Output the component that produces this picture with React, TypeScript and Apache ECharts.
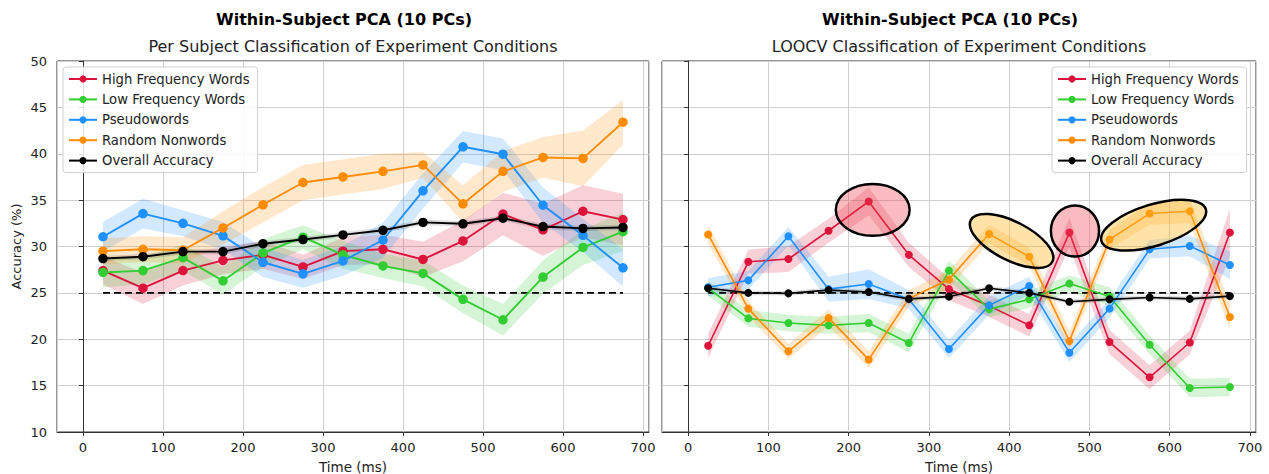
import React, { useEffect, useRef } from "react";
import * as echarts from "echarts";

// Window centres of the sliding classification (ms)
const TIME_MS = [25, 75, 125, 175, 225, 275, 325, 375, 425, 475, 525, 575, 625, 675];

const CONDITIONS = [
  "High Frequency Words",
  "Low Frequency Words",
  "Pseudowords",
  "Random Nonwords",
  "Overall Accuracy",
];
const CONDITION_COLORS = ["#DC143C", "#32CD32", "#1E90FF", "#FF8C00", "#000000"];
const CHANCE_LEVEL = 25;

// Per subject classification: mean accuracy (%) and CI half-width
const perSubjectHF = [27.4, 25.5, 27.4, 28.5, 29.1, 27.8, 29.5, 29.7, 28.6, 30.6, 33.5, 31.8, 33.8, 32.9];
const perSubjectHFErr = [1.5, 1.7, 1.6, 1.5, 1.5, 1.3, 1.5, 1.6, 1.9, 2.2, 2.3, 2.8, 2.8, 2.8];
const perSubjectLF = [27.2, 27.4, 28.8, 26.3, 29.3, 31.0, 29.1, 27.9, 27.1, 24.3, 22.1, 26.7, 29.9, 31.6];
const perSubjectLFErr = [1.6, 1.5, 1.4, 1.5, 1.5, 1.3, 1.5, 1.3, 1.4, 1.5, 1.7, 1.8, 1.9, 2.1];
const perSubjectPW = [31.05, 33.55, 32.5, 31.15, 28.3, 27.05, 28.45, 30.7, 36.0, 40.75, 39.95, 34.45, 31.2, 27.7];
const perSubjectPWErr = [1.6, 1.6, 1.4, 1.5, 1.6, 1.5, 1.6, 1.9, 1.9, 1.7, 1.7, 1.9, 1.8, 2.0];
const perSubjectRN = [29.5, 29.7, 29.6, 32.0, 34.5, 36.9, 37.5, 38.1, 38.8, 34.6, 38.1, 39.6, 39.5, 43.4];
const perSubjectRNErr = [1.4, 1.4, 1.4, 1.8, 1.9, 1.9, 1.9, 1.9, 1.4, 2.0, 2.2, 2.2, 3.0, 2.4];
const perSubjectAll = [28.7, 28.9, 29.45, 29.45, 30.3, 30.75, 31.25, 31.75, 32.6, 32.45, 33.05, 32.15, 31.95, 32.05];
const perSubjectAllErr = [0.3, 0.3, 0.3, 0.3, 0.3, 0.3, 0.3, 0.3, 0.3, 0.3, 0.3, 0.3, 0.3, 0.3];

// LOOCV classification: mean accuracy (%) and CI half-width
const loocvHF = [19.3, 28.35, 28.65, 31.7, 34.85, 29.1, 25.4, 23.6, 21.5, 31.5, 19.7, 15.9, 19.65, 31.5];
const loocvHFErr = [1.3, 1.3, 1.4, 1.3, 1.5, 1.3, 1.2, 1.2, 1.2, 1.6, 1.3, 1.3, 1.3, 2.6];
const loocvLF = [25.5, 22.25, 21.75, 21.5, 21.75, 19.6, 27.4, 23.25, 24.3, 26.0, 24.6, 19.4, 14.75, 14.85];
const loocvLFErr = [0.8, 0.9, 0.9, 0.9, 1.0, 1.0, 1.1, 0.9, 0.9, 0.9, 1.0, 1.0, 1.0, 1.0];
const loocvPW = [25.6, 26.35, 31.1, 25.4, 25.95, 24.3, 18.95, 23.65, 25.75, 18.55, 23.3, 29.7, 30.05, 28.0];
const loocvPWErr = [1.0, 1.0, 1.0, 1.35, 1.6, 1.0, 1.0, 1.0, 1.0, 1.0, 1.0, 1.0, 1.1, 1.5];
const loocvRN = [31.3, 23.3, 18.7, 22.3, 17.8, 24.4, 26.45, 31.35, 28.9, 19.8, 30.75, 33.55, 33.8, 22.4];
const loocvRNErr = [1.0, 0.8, 0.8, 0.9, 0.9, 0.9, 1.0, 1.0, 1.0, 1.0, 1.0, 1.2, 1.3, 1.4];
const loocvAll = [25.5, 25.0, 24.95, 25.3, 25.1, 24.35, 24.6, 25.5, 25.0, 24.05, 24.3, 24.5, 24.35, 24.65];
const loocvAllErr = [0.25, 0.25, 0.25, 0.25, 0.25, 0.25, 0.25, 0.25, 0.25, 0.25, 0.25, 0.25, 0.25, 0.25];

// Highlighted regions on the LOOCV panel (centre, semi-axes in data units, tilt)
const HIGHLIGHT_CENTER_MS = [230, 403, 482, 580];
const HIGHLIGHT_CENTER_ACC = [33.95, 30.6, 31.67, 32.3];
const HIGHLIGHT_RADIUS_MS = [46, 57, 30, 68];
const HIGHLIGHT_RADIUS_ACC = [2.8, 2.08, 2.75, 2.23];
const HIGHLIGHT_TILT_DEG = [0, -27, 0, 17];
const HIGHLIGHT_CONDITION = [0, 3, 0, 3];

const FONT = "DejaVu Sans";

function withAlpha(hex: string, a: number) {
  const n = parseInt(hex.slice(1), 16);
  return `rgba(${(n >> 16) & 255},${(n >> 8) & 255},${n & 255},${a})`;
}

// Confidence band drawn as one closed polygon: upper edge left-to-right, lower edge back.
function bandSeries(grid: number, ci: number, vals: number[], errs: number[]) {
  const color = CONDITION_COLORS[ci];
  const rows = TIME_MS.map((t, i) => [t, vals[i] - errs[i], vals[i] + errs[i]]);
  return {
    type: "custom",
    name: `${CONDITIONS[ci]} CI`,
    xAxisIndex: grid,
    yAxisIndex: grid,
    data: rows,
    encode: { x: 0, y: [1, 2] },
    silent: true,
    z: 1,
    renderItem: (params: any, api: any) => {
      if (params.dataIndex !== 0) return null;
      const upper = rows.map((r) => api.coord([r[0], r[2]]));
      const lower = rows.map((r) => api.coord([r[0], r[1]])).reverse();
      return {
        type: "polygon",
        shape: { points: upper.concat(lower) },
        style: { fill: withAlpha(color, ci === 4 ? 0.12 : 0.2) },
      };
    },
  };
}

function panelSeries(grid: number, means: number[][], errs: number[][]) {
  const markerSize = grid === 0 ? 9.5 : 8;
  const lineWidth = grid === 0 ? 1.9 : 1.6;
  const out: any[] = [];
  means.forEach((vals, ci) => out.push(bandSeries(grid, ci, vals, errs[ci])));
  out.push({
    type: "line",
    name: "chance",
    xAxisIndex: grid,
    yAxisIndex: grid,
    data: [
      [TIME_MS[0], CHANCE_LEVEL],
      [TIME_MS[TIME_MS.length - 1], CHANCE_LEVEL],
    ],
    symbol: "none",
    lineStyle: { color: "#000", width: 1.7, type: [7, 4] },
    silent: true,
    z: 2,
  });
  means.forEach((vals, ci) => {
    const color = CONDITION_COLORS[ci];
    out.push({
      type: "line",
      name: CONDITIONS[ci],
      xAxisIndex: grid,
      yAxisIndex: grid,
      data: TIME_MS.map((t, i) => [t, vals[i]]),
      symbol: "circle",
      symbolSize: markerSize,
      itemStyle: { color },
      lineStyle: { color, width: lineWidth },
      z: 3,
    });
  });
  return out;
}

function xAxis(grid: number) {
  return {
    type: "value",
    gridIndex: grid,
    min: -32.5,
    max: 707.5,
    splitNumber: 7,
    name: "Time (ms)",
    nameLocation: "middle",
    nameGap: 28,
    nameTextStyle: { fontFamily: FONT, fontSize: 13.5, color: "#222" },
    axisLine: { show: true, lineStyle: { color: "#333" } },
    axisTick: { show: true, length: 4, lineStyle: { color: "#333" } },
    axisLabel: {
      fontFamily: FONT,
      fontSize: 13,
      color: "#222",
      margin: 9,
      showMinLabel: false,
      showMaxLabel: false,
    },
    splitLine: { show: true, lineStyle: { color: "#cfcfcf", width: 1 } },
  };
}

function yAxis(grid: number) {
  return {
    type: "value",
    gridIndex: grid,
    min: 10,
    max: 50,
    interval: 5,
    name: grid === 0 ? "Accuracy (%)" : "",
    nameLocation: "middle",
    nameGap: 34,
    nameTextStyle: { fontFamily: FONT, fontSize: 13, color: "#222" },
    axisLine: { show: true, lineStyle: { color: "#333" } },
    axisTick: { show: true, length: 4, lineStyle: { color: "#333" } },
    axisLabel: { show: grid === 0, fontFamily: FONT, fontSize: 13, color: "#222", margin: 10 },
    splitLine: { show: true, lineStyle: { color: "#cfcfcf", width: 1 } },
  };
}

function legend(pos: any) {
  return {
    ...pos,
    orient: "vertical",
    data: CONDITIONS,
    selectedMode: false,
    itemWidth: 28,
    itemHeight: 9,
    itemGap: 4.4,
    padding: [4, 8, 4, 5],
    backgroundColor: "rgba(255,255,255,0.85)",
    borderColor: "#d0d0d0",
    borderWidth: 1,
    borderRadius: 3,
    textStyle: { fontFamily: FONT, fontSize: 13.2, lineHeight: 16, color: "#222" },
  };
}

function titles(cx: number, sub: string) {
  return [
    {
      type: "text",
      x: cx - 9,
      y: 19,
      style: {
        text: "Within-Subject PCA (10 PCs)",
        font: `bold 16px "${FONT}"`,
        fill: "#000",
        textAlign: "center",
        textVerticalAlign: "middle",
      },
    },
    {
      type: "text",
      x: cx,
      y: 46,
      style: {
        text: sub,
        font: `16px "${FONT}"`,
        fill: "#222",
        textAlign: "center",
        textVerticalAlign: "middle",
      },
    },
  ];
}

export default function App() {
  const ref = useRef<HTMLDivElement>(null);

  useEffect(() => {
    if (!ref.current) return;
    const chart = echarts.init(ref.current, undefined, { renderer: "svg" });

    const highlightData = HIGHLIGHT_CENTER_MS.map((x, i) => [
      x,
      HIGHLIGHT_CENTER_ACC[i],
      HIGHLIGHT_RADIUS_MS[i],
      HIGHLIGHT_RADIUS_ACC[i],
      HIGHLIGHT_TILT_DEG[i],
    ]);

    const gridBase = {
      top: 61,
      height: 371,
      show: true,
      borderColor: "#333",
      borderWidth: 1,
      containLabel: false,
      outerBoundsMode: "none",
    };

    chart.setOption({
      animation: false,
      backgroundColor: "#fff",
      grid: [
        { ...gridBase, left: 57, width: 592 },
        { ...gridBase, left: 662, width: 594 },
      ],
      xAxis: [xAxis(0), xAxis(1)],
      yAxis: [yAxis(0), yAxis(1)],
      legend: [legend({ left: 63, top: 67 }), legend({ left: 1052, top: 67 })],
      graphic: [
        ...titles(353, "Per Subject Classification of Experiment Conditions"),
        ...titles(959, "LOOCV Classification of Experiment Conditions"),
      ],
      series: [
        ...panelSeries(
          0,
          [perSubjectHF, perSubjectLF, perSubjectPW, perSubjectRN, perSubjectAll],
          [perSubjectHFErr, perSubjectLFErr, perSubjectPWErr, perSubjectRNErr, perSubjectAllErr]
        ),
        ...panelSeries(
          1,
          [loocvHF, loocvLF, loocvPW, loocvRN, loocvAll],
          [loocvHFErr, loocvLFErr, loocvPWErr, loocvRNErr, loocvAllErr]
        ),
        {
          type: "custom",
          name: "highlights",
          xAxisIndex: 1,
          yAxisIndex: 1,
          data: highlightData,
          encode: { x: 0, y: 1 },
          silent: true,
          z: 5,
          renderItem: (params: any, api: any) => {
            const c = api.coord([api.value(0), api.value(1)]);
            const rx = api.size([api.value(2), 0])[0];
            const ry = api.size([0, api.value(3)])[1];
            const base = CONDITION_COLORS[HIGHLIGHT_CONDITION[params.dataIndex]];
            const fill = base === "#DC143C" ? "rgba(240,70,80,0.36)" : "rgba(255,185,40,0.4)";
            return {
              type: "ellipse",
              x: c[0],
              y: c[1],
              rotation: (api.value(4) * Math.PI) / 180,
              shape: { cx: 0, cy: 0, rx, ry },
              style: { fill, stroke: "#000", lineWidth: 2.5 },
            };
          },
        },
      ],
    });

    return () => chart.dispose();
  }, []);

  return (
    <div
      ref={ref}
      style={{ position: "fixed", left: 0, top: 0, width: 1269, height: 474, background: "#fff" }}
    />
  );
}
